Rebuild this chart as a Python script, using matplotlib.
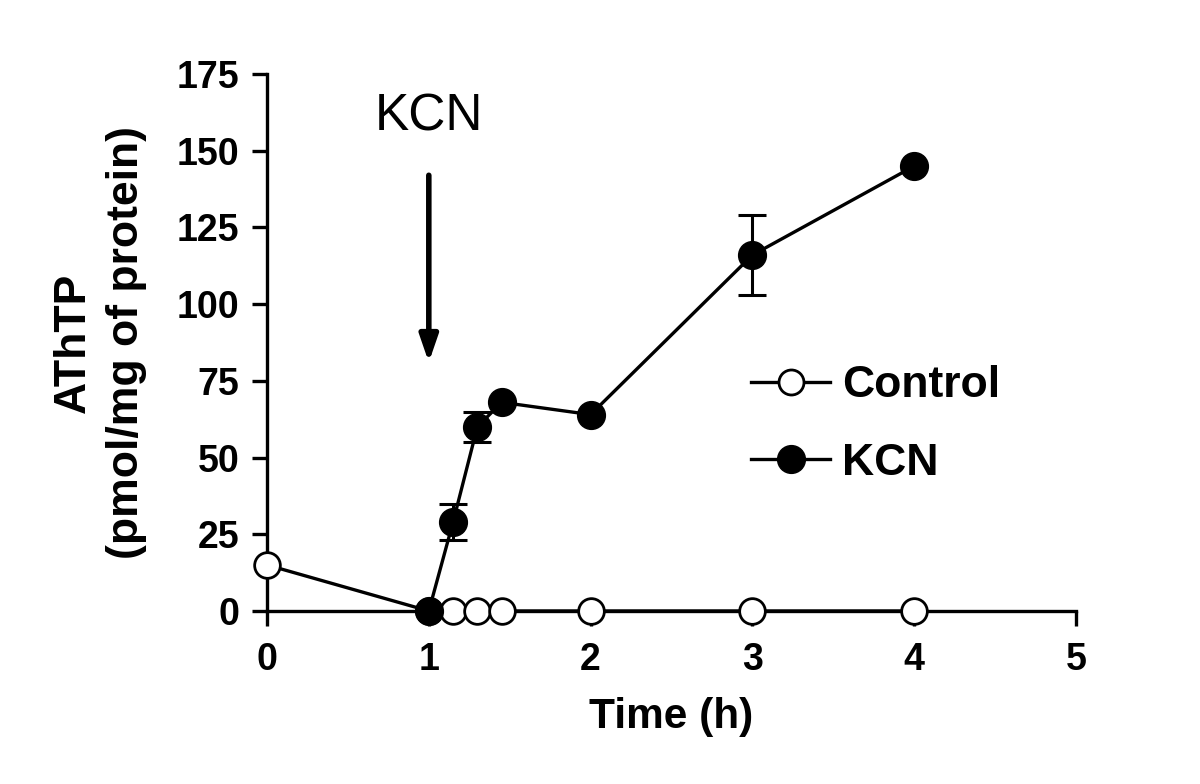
import matplotlib

matplotlib.use("Agg")
import matplotlib.pyplot as plt
from matplotlib.lines import Line2D

# Control series
ctrl_t = [0, 1, 1.15, 1.3, 1.45, 2, 3, 4]
ctrl_v = [15, 0, 0, 0, 0, 0, 0, 0]

# KCN series
kcn_t = [1, 1.15, 1.3, 1.45, 2, 3, 4]
kcn_v = [0, 29, 60, 68, 64, 116, 145]
kcn_err = [0, 6, 5, 0, 0, 13, 0]

xticks = [0, 1, 2, 3, 4, 5]
yticks = [0, 25, 50, 75, 100, 125, 150, 175]

plt.rcParams["font.family"] = ["Liberation Sans", "DejaVu Sans"]

fig = plt.figure(figsize=(12, 7.84), dpi=100)
ax = fig.add_axes([0.2225, 0.2207, 0.6742, 0.6849])

lw = 2.4
ax.plot(ctrl_t, ctrl_v, color="black", lw=lw, marker="o", ms=18.5,
        mfc="white", mec="black", mew=2, clip_on=False, zorder=3)
ax.errorbar(kcn_t, kcn_v, yerr=kcn_err, color="black", lw=lw, marker="o", ms=20,
            mfc="black", mec="black", capsize=10, capthick=2.2, elinewidth=2.2,
            clip_on=False, zorder=4)

ax.set_xlim(0, 5)
ax.set_ylim(0, 175)
ax.set_xticks(xticks)
ax.set_yticks(yticks)

for side in ("top", "right"):
    ax.spines[side].set_visible(False)
for side in ("left", "bottom"):
    ax.spines[side].set_linewidth(2.4)
ax.tick_params(width=2.4, length=11, direction="out", labelsize=27)
ax.tick_params(axis="x", pad=11)
ax.tick_params(axis="y", pad=9)
for lab in ax.get_xticklabels() + ax.get_yticklabels():
    lab.set_fontweight("bold")

ax.set_xlabel("Time (h)", fontsize=30.5, fontweight="bold", labelpad=14)
ax.set_ylabel("AThTP\n(pmol/mg of protein)", fontsize=32, fontweight="bold",
              labelpad=21, linespacing=1.4)

# KCN addition marker
ax.annotate("", xy=(1, 81), xytext=(1, 142),
            arrowprops=dict(arrowstyle="-|>,head_width=0.55,head_length=1.6",
                            color="black", lw=4, shrinkA=0, shrinkB=0))
ax.text(1, 161, "KCN", fontsize=37, ha="center", va="center")

handles = [
    Line2D([], [], color="black", lw=lw, marker="o", ms=18, mfc="white",
           mec="black", mew=2),
    Line2D([], [], color="black", lw=lw, marker="o", ms=20, mfc="black",
           mec="black"),
]
ax.legend(handles, ["Control", "KCN"], loc="center left",
          bbox_to_anchor=(0.549, 0.347), frameon=False, handlelength=1.78,
          handletextpad=0.26, labelspacing=0.82,
          prop={"weight": "bold", "size": 32})

fig.savefig("out.png", dpi=100)
